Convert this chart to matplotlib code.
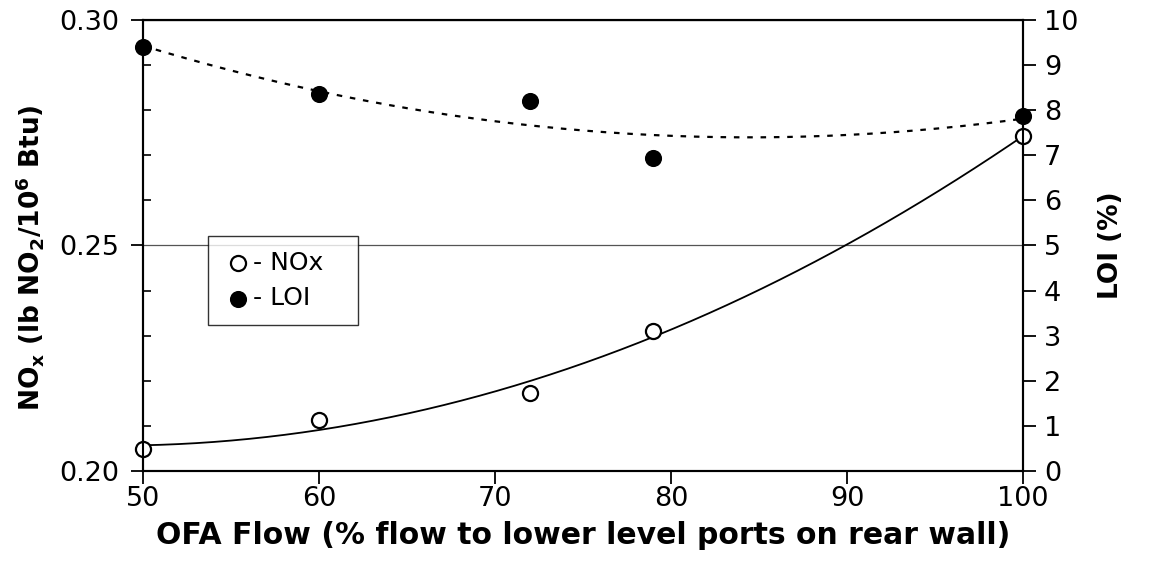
import numpy as np
import matplotlib
matplotlib.use("Agg")
import matplotlib.pyplot as plt
from matplotlib.ticker import MultipleLocator, FormatStrFormatter

plt.rcParams['font.family'] = ['DejaVu Sans']
plt.rcParams['mathtext.fontset'] = 'dejavusans'
plt.rcParams['mathtext.default'] = 'bf'

# OFA flow (% to lower level rear-wall ports)
ofa_flow = [50, 60, 72, 79, 100]
# NOx emissions, lb NO2 / 10^6 Btu
nox = [0.2049, 0.2113, 0.2173, 0.2310, 0.2743]
# Loss on ignition, %
loi = [9.39, 8.35, 8.21, 6.94, 7.88]

x_ticks = [50, 60, 70, 80, 90, 100]

fig = plt.figure(figsize=(11.72, 5.84), dpi=100)
ax = fig.add_axes([0.122, 0.1935, 0.751, 0.7723])
ax2 = ax.twinx()

# second-order trendlines fitted to the measured points
xf = np.linspace(min(ofa_flow), max(ofa_flow), 200)
nox_fit = np.polyval(np.polyfit(ofa_flow, nox, 2), xf)
loi_fit = np.polyval(np.polyfit(ofa_flow, loi, 2), xf)

ax.plot(xf, nox_fit, color='black', lw=1.3, zorder=2)
ax2.plot(xf, loi_fit, color='black', lw=1.6, ls=(0, (2.5, 3.5)), zorder=2)

ax.scatter(ofa_flow, nox, s=118, facecolor='white', edgecolor='black',
           linewidth=1.6, zorder=4, clip_on=False)
ax2.scatter(ofa_flow, loi, s=128, facecolor='black', edgecolor='black',
            zorder=4, clip_on=False)

ax.set_xlim(50, 100)
ax.set_ylim(0.20, 0.30)
ax2.set_ylim(0, 10)
ax.set_xticks(x_ticks)
ax.yaxis.set_major_locator(MultipleLocator(0.05))
ax.yaxis.set_minor_locator(MultipleLocator(0.01))
ax.yaxis.set_major_formatter(FormatStrFormatter('%.2f'))
ax2.yaxis.set_major_locator(MultipleLocator(1))

ax.grid(axis='y', which='major', color='#555555', lw=0.9)
ax.set_axisbelow(True)

ax.tick_params(axis='both', which='major', direction='out', length=9,
               width=1.3, labelsize=19.5)
ax.tick_params(axis='x', which='major', pad=2)
ax.tick_params(axis='y', which='major', pad=8)
ax.tick_params(axis='y', which='minor', direction='in', length=6, width=1.2)
ax2.tick_params(axis='y', which='major', direction='out', length=9,
                width=1.3, labelsize=19.5, pad=6)

for a in (ax, ax2):
    for s in a.spines.values():
        s.set_linewidth(1.5)

ax.set_xlabel('OFA Flow (% flow to lower level ports on rear wall)',
              fontsize=21.5, fontweight='bold', labelpad=6)
ax.set_ylabel(r'NO$_\mathregular{x}$ (lb NO$_\mathregular{2}$/10$^\mathregular{6}$ Btu)',
              fontsize=19, fontweight='bold')
ax.yaxis.set_label_coords(-0.110, 0.472)
ax2.set_ylabel('LOI (%)', fontsize=19, fontweight='bold', labelpad=14)

# legend box
h1 = ax.scatter([], [], s=118, facecolor='white', edgecolor='black', linewidth=1.6)
h2 = ax.scatter([], [], s=128, facecolor='black', edgecolor='black')
leg = ax.legend([h1, h2], ['- NOx', '- LOI'], loc='upper left',
                bbox_to_anchor=(0.074, 0.521, 0.17, 0.0), mode='expand',
                frameon=True, fancybox=False,
                edgecolor='black', fontsize=18, handletextpad=0.0,
                borderpad=0.6, labelspacing=0.45, handlelength=1.2,
                borderaxespad=0)
leg.get_frame().set_linewidth(1.0)

fig.savefig('out.png', dpi=100)
